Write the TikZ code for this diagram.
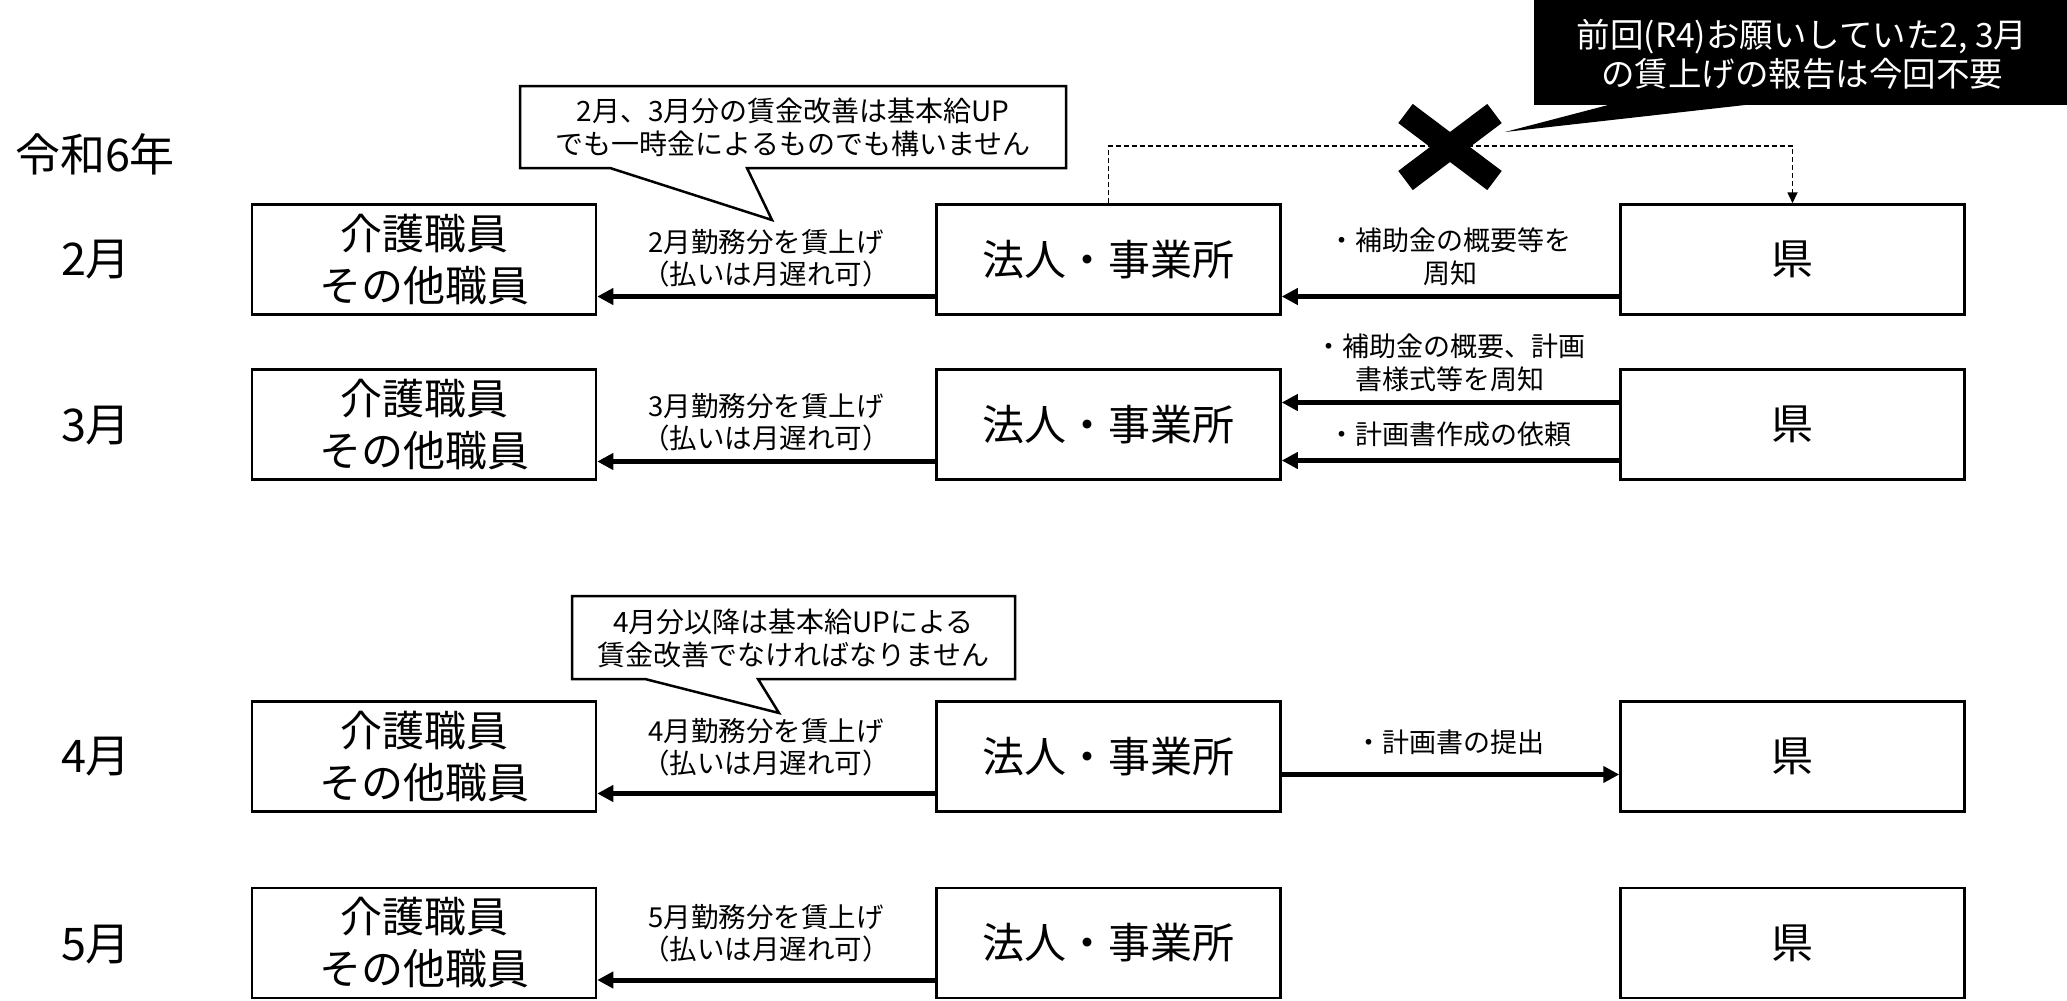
\documentclass[tikz,border=0pt]{standalone}
\usepackage{fontspec}
\setmainfont{Noto Sans CJK JP}
\usetikzlibrary{arrows.meta}
\begin{document}
\begin{tikzpicture}[x=1pt,y=-1pt,
  box/.style={draw,line width=2.5pt,minimum width=344pt,minimum height=110pt,inner sep=0pt,align=center,font=\fontsize{42}{52}\selectfont},
  mon/.style={inner sep=0pt,font=\fontsize{45}{50}\selectfont},
  lbl/.style={align=center,inner sep=0pt,font=\fontsize{27.5}{32}\selectfont},
  rlbl/.style={align=center,inner sep=0pt,font=\fontsize{27}{33}\selectfont},
  ctxt/.style={align=center,inner sep=0pt,font=\fontsize{28}{33}\selectfont},
  arr/.style={line width=5pt,-{Triangle[length=16pt,width=16pt]}},
  dline/.style={line width=1.8pt,dash pattern=on 5pt off 3pt,-{Triangle[length=11pt,width=10pt]}},
  callout/.style={draw,fill=white,line width=2.5pt,line join=miter}
]
\useasboundingbox (0,0) rectangle (2067,1001);

% year and months
\node[mon] (year) at (95,154) {令和6年};
\node[mon] (m2) at (96,260) {2月};
\node[mon] (m3) at (96,426) {3月};
\node[mon] (m4) at (96,757) {4月};
\node[mon] (m5) at (96,945) {5月};

% boxes
\foreach \r/\y in {1/259.5,2/424.5,3/756.5,4/943} {
  \node[box] (l\r) at (424,\y) {介護職員\\その他職員};
  \node[box] (c\r) at (1108.5,\y) {法人・事業所};
  \node[box] (p\r) at (1792.5,\y) {県};
}

% left arrows and labels
\draw[arr] ([yshift=-37pt]c1.west) -- ([yshift=-37pt]l1.east);
\draw[arr] ([yshift=-37pt]c2.west) -- ([yshift=-37pt]l2.east);
\draw[arr] ([yshift=-37pt]c3.west) -- ([yshift=-37pt]l3.east);
\draw[arr] ([yshift=-37pt]c4.west) -- ([yshift=-37pt]l4.east);
\node[lbl] (t1) at (766,258.5) {2月勤務分を賃上げ\\（払いは月遅れ可）};
\node[lbl] (t2) at (766,422.5) {3月勤務分を賃上げ\\（払いは月遅れ可）};
\node[lbl] (t3) at (766,747) {4月勤務分を賃上げ\\（払いは月遅れ可）};
\node[lbl] (t4) at (766,933) {5月勤務分を賃上げ\\（払いは月遅れ可）};

% right arrows and labels
\draw[arr] ([yshift=-37pt]p1.west) -- ([yshift=-37pt]c1.east);
\node[rlbl] (s1) at (1450,257) {・補助金の概要等を\\周知};
\draw[arr] ([yshift=22pt]p2.west) -- ([yshift=22pt]c2.east);
\node[rlbl] (s2) at (1450,363) {・補助金の概要、計画\\書様式等を周知};
\draw[arr] ([yshift=-36pt]p2.west) -- ([yshift=-36pt]c2.east);
\node[rlbl] (s3) at (1450,434) {・計画書作成の依頼};
\draw[arr] ([yshift=-18pt]c3.east) -- ([yshift=-18pt]p3.west);
\node[rlbl] (s4) at (1450,742) {・計画書の提出};

% dashed connection and cross
\draw[dline] (c1.north) -- ++(0,-57) -| (p1.north);
\draw[line width=24pt] (1405.5,113.5) -- (1494.5,180.5);
\draw[line width=24pt] (1405.5,180.5) -- (1494.5,113.5);

% black note
\node[fill=black,text=white,minimum width=533pt,minimum height=105pt,inner sep=0pt] (note) at (1800.5,52.5) {};
\fill (1612,104) -- (1505,132) -- (1754,104) -- cycle;
\node[align=center,inner sep=0pt,text=white,font=\fontsize{33.5}{39}\selectfont] (notetext) at (1802,54) {前回(R4)お願いしていた2, 3月\\の賃上げの報告は今回不要};

% callouts
\draw[callout] (520,86) -- (1066,86) -- (1066,168) -- (747,168) -- (772,220) -- (610,168) -- (520,168) -- cycle;
\node[ctxt] (k1) at (793,127) {2月、3月分の賃金改善は基本給UP\\でも一時金によるものでも構いません};
\draw[callout] (572,596) -- (1015,596) -- (1015,679) -- (758,679) -- (779,713) -- (645,679) -- (572,679) -- cycle;
\node[ctxt] (k2) at (793.5,638) {4月分以降は基本給UPによる\\賃金改善でなければなりません};
\end{tikzpicture}
\end{document}
